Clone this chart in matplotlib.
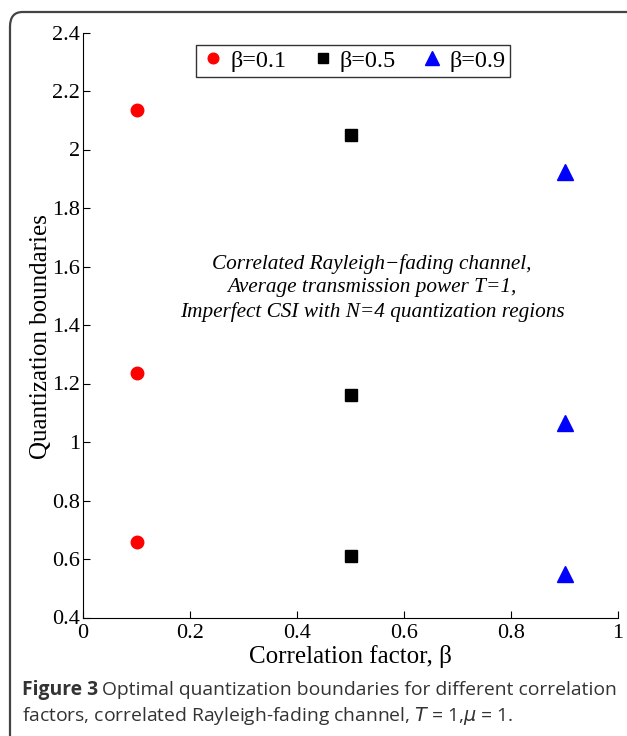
import numpy as np
import matplotlib.pyplot as plt
from matplotlib.patches import FancyBboxPatch
from matplotlib.ticker import FuncFormatter

# correlation factors and the three quantization boundaries
betas = [0.1, 0.5, 0.9]
labels = ['β=0.1', 'β=0.5', 'β=0.9']
bound_b01 = [2.135, 1.237, 0.659]
bound_b05 = [2.050, 1.161, 0.611]
bound_b09 = [1.924, 1.065, 0.549]

xticks = [0, 0.2, 0.4, 0.6, 0.8, 1]
yticks = [0.4, 0.6, 0.8, 1, 1.2, 1.4, 1.6, 1.8, 2, 2.2, 2.4]

serif = 'Liberation Serif'
cap_font = 'Open Sans'
cap_size = 13.9

fig = plt.figure(figsize=(6.27, 7.36), dpi=100)
ax = fig.add_axes([83 / 627, 1 - 617.5 / 736, 535 / 627, 585 / 736])

ax.plot([betas[0]] * 3, bound_b01, 'o', color='red', ms=9, mec='red', label=labels[0])
ax.plot([betas[1]] * 3, bound_b05, 's', color='black', ms=8, label=labels[1])
ax.plot([betas[2]] * 3, bound_b09, '^', color='blue', ms=12, label=labels[2])

ax.set_xlim(0, 1)
ax.set_ylim(0.4, 2.4)
ax.set_xticks(xticks)
ax.set_yticks(yticks)
fmt = FuncFormatter(lambda v, p: '%g' % v)
ax.xaxis.set_major_formatter(fmt)
ax.yaxis.set_major_formatter(fmt)
ax.tick_params(direction='in', length=5, width=0.8, labelsize=16, pad=2)
ax.tick_params(axis='x', pad=5)
for t in ax.get_xticklabels() + ax.get_yticklabels():
    t.set_fontfamily(serif)
ax.spines['top'].set_visible(False)
ax.spines['right'].set_visible(False)

ax.set_xlabel('Correlation factor, β', fontsize=18, family=serif, labelpad=1)
ax.set_ylabel('Quantization boundaries', fontsize=18, family=serif)
ax.yaxis.set_label_coords(-0.058, 0.48)

ax.text(0.54, 1.527,
        'Correlated Rayleigh−fading channel,\nAverage transmission power T=1,\nImperfect CSI with N=4 quantization regions',
        ha='center', va='center', fontsize=15.3, style='italic', family=serif,
        linespacing=1.33)

leg = ax.legend(loc='upper center', bbox_to_anchor=(0.505, 0.979), ncol=3,
                prop={'family': serif, 'size': 17.5}, frameon=True, fancybox=False,
                handletextpad=0.2, columnspacing=1.0, borderpad=0.2, handlelength=1.0,
                markerscale=0.85, borderaxespad=0)
leg.get_frame().set_edgecolor('black')
leg.get_frame().set_linewidth(1.0)

# caption below the plot: bold label, then the rest placed right after it
y1 = 1 - 690 / 736
y2 = 1 - 716 / 736
bold = fig.text(22 / 627, y1, 'Figure 3', fontsize=cap_size, fontweight='bold',
                family=cap_font, color='#333333', va='center')
fig.canvas.draw()
bb = bold.get_window_extent(renderer=fig.canvas.get_renderer())
x_rest = (bb.x1 + 4) / fig.bbox.width
fig.text(x_rest, y1, 'Optimal quantization boundaries for different correlation',
         fontsize=cap_size, family=cap_font, color='#333333', va='center')
fig.text(22 / 627, y2,
         'factors, correlated Rayleigh-fading channel, $\\mathit{T}$ = 1,$\\mathit{\\mu}$ = 1.',
         fontsize=cap_size, family=cap_font, color='#333333', va='center')

# rounded frame around the figure (runs off the right and bottom edges)
frame = FancyBboxPatch((10 / 627, -0.05), 1.1, 1 - 12 / 736 + 0.05,
                       boxstyle='round,pad=0,rounding_size=0.02',
                       transform=fig.transFigure, fill=False,
                       edgecolor='#444444', linewidth=1.6, clip_on=False)
fig.patches.append(frame)

fig.savefig('out.png', dpi=100)
